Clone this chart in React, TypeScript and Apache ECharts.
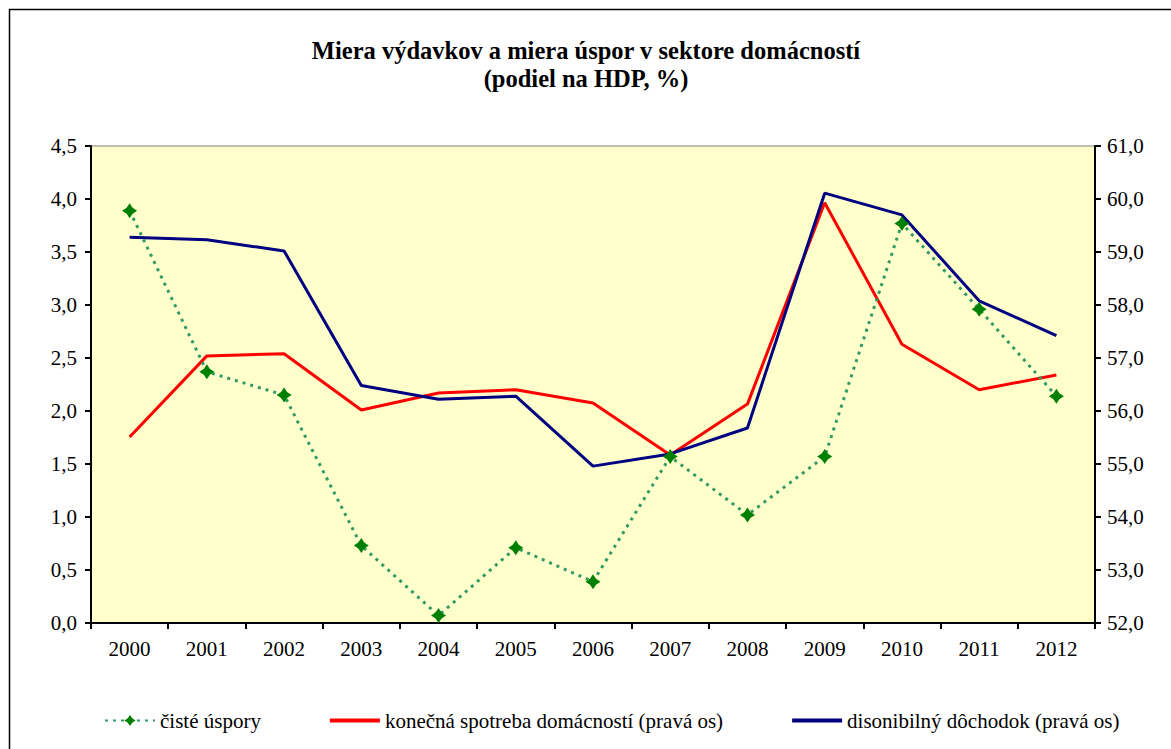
import React, { useEffect, useRef } from "react";
import * as echarts from "echarts";

const years = ["2000", "2001", "2002", "2003", "2004", "2005", "2006", "2007", "2008", "2009", "2010", "2011", "2012"];
const cisteUspory = [3.89, 2.37, 2.15, 0.73, 0.07, 0.71, 0.39, 1.57, 1.02, 1.57, 3.77, 2.96, 2.14];
const konecnaSpotreba = [55.51, 57.04, 57.08, 56.02, 56.34, 56.4, 56.15, 55.17, 56.13, 59.93, 57.26, 56.4, 56.68];
const disponibilnyDochodok = [59.28, 59.23, 59.02, 56.48, 56.22, 56.28, 54.96, 55.19, 55.68, 60.11, 59.7, 58.08, 57.42];
const seriesNames = ["čisté úspory", "konečná spotreba domácností (pravá os)", "disonibilný dôchodok (pravá os)"];
const titleText = "Miera výdavkov a miera úspor v sektore domácností\n(podiel na HDP, %)";

const FONT = "Liberation Serif";
const fmt = (v: number) => v.toFixed(1).replace(".", ",");

export default function App() {
  const ref = useRef<HTMLDivElement>(null);
  useEffect(() => {
    const chart = echarts.init(ref.current!, null, { renderer: "svg" });
    const starPath = "path://M0,-10 L4,-4 L10,0 L4,4 L0,10 L-4,4 L-10,0 L-4,-4 Z";
    chart.setOption({
      animation: false,
      textStyle: { fontFamily: FONT },
      title: {
        text: titleText,
        left: 581,
        textAlign: "center",
        top: 31,
        textStyle: { fontFamily: FONT, fontWeight: "bold", fontSize: 24.5, lineHeight: 28, color: "#000" },
      },
      graphic: [
        {
          type: "rect",
          shape: { x: 9.5, y: 9.5, width: 1200, height: 800 },
          style: { fill: "none", stroke: "#000", lineWidth: 1.5 },
          silent: true,
        },
      ],
      legend: {
        left: 99,
        top: 705,
        itemWidth: 50,
        itemHeight: 14,
        itemGap: 67,
        textStyle: { fontFamily: FONT, fontSize: 21, color: "#000" },
        data: [
          { name: seriesNames[0] },
          { name: seriesNames[1], itemStyle: { opacity: 0 }, lineStyle: { width: 4 } },
          { name: seriesNames[2], itemStyle: { opacity: 0 }, lineStyle: { width: 4 } },
        ],
      },
      grid: {
        left: 91,
        right: 76,
        top: 146,
        bottom: 126,
        show: true,
        backgroundColor: "#FFFFCC",
        borderColor: "#808080",
        borderWidth: 1,
      },
      xAxis: {
        type: "category",
        data: years,
        boundaryGap: true,
        axisLine: { lineStyle: { color: "#000", width: 2 } },
        axisTick: { show: true, length: 6, lineStyle: { color: "#000", width: 2 } },
        axisLabel: { color: "#000", fontFamily: FONT, fontSize: 21, margin: 15 },
        splitLine: { show: false },
      },
      yAxis: [
        {
          type: "value",
          min: 0,
          max: 4.5,
          interval: 0.5,
          axisLine: { show: true, lineStyle: { color: "#000", width: 2 } },
          axisTick: { show: true, length: 6, lineStyle: { color: "#000", width: 2 } },
          axisLabel: { color: "#000", fontFamily: FONT, fontSize: 21, margin: 14, formatter: (v: number) => fmt(v) },
          splitLine: { show: false },
        },
        {
          type: "value",
          min: 52,
          max: 61,
          interval: 1,
          position: "right",
          axisLine: { show: true, lineStyle: { color: "#000", width: 2 } },
          axisTick: { show: true, length: 6, lineStyle: { color: "#000", width: 2 } },
          axisLabel: { color: "#000", fontFamily: FONT, fontSize: 21, margin: 12, formatter: (v: number) => fmt(v) },
          splitLine: { show: false },
        },
      ],
      series: [
        {
          name: seriesNames[0],
          type: "line",
          yAxisIndex: 0,
          data: cisteUspory,
          symbol: starPath,
          symbolSize: 15,
          itemStyle: { color: "#008000" },
          lineStyle: { color: "#339966", width: 3, type: [3, 5] },
          z: 3,
        },
        {
          name: seriesNames[1],
          type: "line",
          yAxisIndex: 1,
          data: konecnaSpotreba,
          showSymbol: false,
          symbol: "none",
          itemStyle: { color: "#FF0000" },
          lineStyle: { color: "#FF0000", width: 3 },
          z: 2,
        },
        {
          name: seriesNames[2],
          type: "line",
          yAxisIndex: 1,
          data: disponibilnyDochodok,
          showSymbol: false,
          symbol: "none",
          itemStyle: { color: "#000080" },
          lineStyle: { color: "#000080", width: 3 },
          z: 2,
        },
      ],
    });
    return () => chart.dispose();
  }, []);
  return (
    <div
      ref={ref}
      style={{ position: "absolute", left: 0, top: 0, width: 1171, height: 749, background: "#fff" }}
    />
  );
}
